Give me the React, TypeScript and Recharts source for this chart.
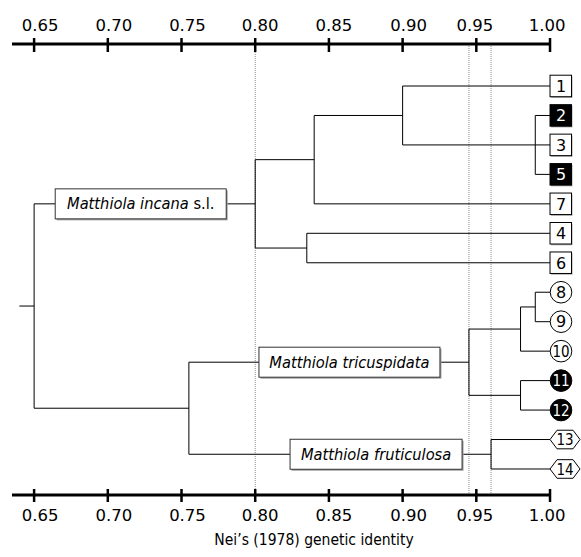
import { ComposedChart, XAxis, YAxis, Scatter, ReferenceLine, Label } from "recharts";

// Nei's identity axis
const TICKS = [0.65, 0.7, 0.75, 0.8, 0.85, 0.9, 0.95, 1.0];
const AXIS_START = 0.635;
const CUTOFFS = [0.8, 0.945, 0.96];

// leaves, top to bottom
const LEAVES = ["1", "2", "3", "5", "7", "4", "6", "8", "9", "10", "11", "12", "13", "14"];
const LEAF_SHAPES = [
  "square", "square", "square", "square", "square", "square", "square",
  "circle", "circle", "circle", "circle", "circle",
  "hexagon", "hexagon",
];
const FILLED_LEAVES = ["2", "5", "11", "12"];
const LEAF_IDENTITY = 1.0;

// internal nodes, children before parents
const NODES = [
  { id: "C", identity: 0.99, children: ["2", "3", "5"] },
  { id: "A", identity: 0.9, children: ["1", "C"] },
  { id: "B", identity: 0.84, children: ["A", "7"] },
  { id: "D", identity: 0.835, children: ["4", "6"] },
  { id: "incana", identity: 0.8, children: ["B", "D"] },
  { id: "F", identity: 0.99, children: ["8", "9"] },
  { id: "E", identity: 0.98, children: ["F", "10"] },
  { id: "G", identity: 0.98, children: ["11", "12"] },
  { id: "tricuspidata", identity: 0.945, children: ["E", "G"] },
  { id: "fruticulosa", identity: 0.96, children: ["13", "14"] },
  { id: "lower", identity: 0.755, children: ["tricuspidata", "fruticulosa"] },
  { id: "root", identity: 0.65, children: ["incana", "lower"] },
];
const ROOT_STUB = 0.64;

const CLADES = [
  { node: "incana", name: "Matthiola incana", suffix: " s.l." },
  { node: "tricuspidata", name: "Matthiola tricuspidata", suffix: "" },
  { node: "fruticulosa", name: "Matthiola fruticulosa", suffix: "" },
];

type Pt = { x: number; y: number };

const pos: Record<string, Pt> = {};
LEAVES.forEach((id, i) => (pos[id] = { x: LEAF_IDENTITY, y: i + 1 }));
NODES.forEach((n) => {
  const ys = n.children.map((c) => pos[c].y);
  pos[n.id] = { x: n.identity, y: (Math.min(...ys) + Math.max(...ys)) / 2 };
});

const branches: Pt[][] = [];
NODES.forEach((n) => {
  const kids = n.children.map((c) => pos[c]);
  const first = kids[0];
  const last = kids[kids.length - 1];
  branches.push([
    { x: first.x, y: first.y },
    { x: n.identity, y: first.y },
    { x: n.identity, y: last.y },
    { x: last.x, y: last.y },
  ]);
  kids.slice(1, -1).forEach((k) =>
    branches.push([
      { x: n.identity, y: k.y },
      { x: k.x, y: k.y },
    ])
  );
});
const rootStub: Pt[] = [
  { x: ROOT_STUB, y: pos.root.y },
  { x: pos.root.x, y: pos.root.y },
];

const leafData = LEAVES.map((id, i) => ({
  ...pos[id],
  id,
  shape: LEAF_SHAPES[i],
  filled: FILLED_LEAVES.includes(id),
}));
const cladeData = CLADES.map((c) => ({ ...pos[c.node], ...c }));

const FONT = "'DejaVu Sans', sans-serif";
const COND = "'DejaVu Sans Condensed', 'DejaVu Sans', sans-serif";
const LABEL_SHIFT = [6, 6, 6, 5, 5, 6, -1.5, -3];
const BOX_WIDTH: Record<string, number> = { incana: 171, tricuspidata: 181, fruticulosa: 172 };

function IdentityTick(props: any) {
  const { x, y, payload, index, side } = props;
  const top = side === "top";
  return (
    <g>
      <line x1={x} x2={x} y1={y - 6} y2={y + (top ? 8 : 7)} stroke="#000" strokeWidth={2.5} />
      <text
        x={x + (LABEL_SHIFT[index] ?? 0)}
        y={top ? y - 13.5 : y + 26}
        textAnchor="middle"
        fontFamily={FONT}
        fontSize={16.5}
        fill="#000"
      >
        {Number(payload.value).toFixed(2)}
      </text>
    </g>
  );
}

function LeafMark(props: any) {
  const { cx, cy, payload } = props;
  const fill = payload.filled ? "#000" : "#fff";
  const ink = payload.filled ? "#fff" : "#000";
  const two = payload.id.length > 1;
  let mark;
  let tx = cx + 11;
  if (payload.shape === "square") {
    mark = (
      <g>
        <rect x={cx + 1} y={cy - 9.5} width={21.5} height={21.5} fill="#b0b0b0" />
        <rect x={cx} y={cy - 10.8} width={21.5} height={21.5} fill={fill} stroke="#000" />
      </g>
    );
  } else if (payload.shape === "circle") {
    mark = <circle cx={cx + 11} cy={cy} r={10.8} fill={fill} stroke="#000" />;
  } else {
    const h = 9.3;
    const pts = [
      [cx, cy],
      [cx + 7, cy - h],
      [cx + 23, cy - h],
      [cx + 30, cy],
      [cx + 23, cy + h],
      [cx + 7, cy + h],
    ]
      .map((p) => p.join(","))
      .join(" ");
    mark = <polygon points={pts} fill={fill} stroke="#000" />;
    tx = cx + 15;
  }
  return (
    <g>
      {mark}
      <text
        x={tx}
        y={cy + 5.8}
        textAnchor="middle"
        fontFamily={two ? COND : FONT}
        fontSize={two ? 15 : 16}
        fill={ink}
      >
        {payload.id}
      </text>
    </g>
  );
}

function CladeBox(props: any) {
  const { cx, cy, payload } = props;
  const w = BOX_WIDTH[payload.node];
  const right = cx - 29;
  const left = right - w;
  return (
    <g>
      <rect x={left + 1.5} y={cy - 13.5} width={w} height={30} fill="#a0a0a0" />
      <rect x={left} y={cy - 15} width={w} height={30} fill="#fff" stroke="#333" />
      <text
        x={left + w / 2}
        y={cy + 5.5}
        textAnchor="middle"
        fontFamily={COND}
        fontSize={16.3}
        fill="#000"
      >
        <tspan fontStyle="italic">{payload.name}</tspan>
        {payload.suffix ? <tspan>{payload.suffix}</tspan> : null}
      </text>
    </g>
  );
}

const noDot = () => <g />;

export default function App() {
  return (
    <div style={{ position: "absolute", left: 0, top: 0, width: 581, height: 557, background: "#fff" }}>
      <ComposedChart width={581} height={557} margin={{ top: 0, right: 1.5, bottom: 0, left: 12 }}>
        <XAxis
          xAxisId="top"
          orientation="top"
          type="number"
          dataKey="x"
          domain={[AXIS_START, 1.02]}
          ticks={TICKS}
          interval={0}
          height={44}
          axisLine={false}
          tickLine={false}
          tickSize={0}
          tickMargin={0}
          tick={(p: any) => <IdentityTick {...p} side="top" />}
        />
        <XAxis
          xAxisId="bottom"
          orientation="bottom"
          type="number"
          dataKey="x"
          domain={[AXIS_START, 1.02]}
          ticks={TICKS}
          interval={0}
          height={62}
          axisLine={false}
          tickLine={false}
          tickSize={0}
          tickMargin={0}
          tick={(p: any) => <IdentityTick {...p} side="bottom" />}
        >
          <Label
            content={(p: any) => (
              <text
                x={p.viewBox.x + 302}
                y={p.viewBox.y + 49.5}
                textAnchor="middle"
                fontFamily={COND}
                fontSize={15.5}
                fill="#000"
              >
                Nei’s (1978) genetic identity
              </text>
            )}
          />
        </XAxis>
        <YAxis type="number" dataKey="y" domain={[-0.426, 14.883]} reversed hide />

        {CUTOFFS.map((c) => (
          <ReferenceLine
            key={c}
            xAxisId="bottom"
            x={c}
            stroke="#8a8a8a"
            strokeDasharray="1 1"
            ifOverflow="visible"
          />
        ))}
        <ReferenceLine
          xAxisId="bottom"
          segment={[
            { x: AXIS_START, y: -0.426 },
            { x: 1.0, y: -0.426 },
          ]}
          stroke="#000"
          strokeWidth={3}
          ifOverflow="visible"
        />
        <ReferenceLine
          xAxisId="bottom"
          segment={[
            { x: AXIS_START, y: 14.883 },
            { x: 1.0, y: 14.883 },
          ]}
          stroke="#000"
          strokeWidth={3}
          ifOverflow="visible"
        />

        {branches.map((b, i) => (
          <Scatter
            key={i}
            xAxisId="bottom"
            data={b}
            line={{ stroke: "#000", strokeWidth: 1 }}
            shape={noDot}
            isAnimationActive={false}
          />
        ))}
        <Scatter
          xAxisId="top"
          data={rootStub}
          line={{ stroke: "#000", strokeWidth: 1 }}
          shape={noDot}
          isAnimationActive={false}
        />
        <Scatter xAxisId="bottom" data={cladeData} shape={CladeBox} isAnimationActive={false} />
        <Scatter xAxisId="bottom" data={leafData} shape={LeafMark} isAnimationActive={false} />
      </ComposedChart>
    </div>
  );
}
